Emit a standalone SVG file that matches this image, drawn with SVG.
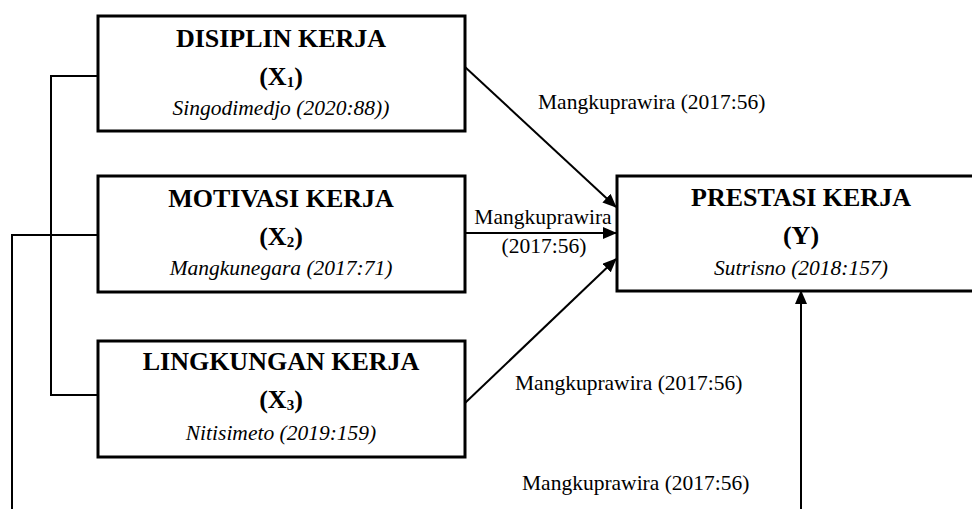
<svg xmlns="http://www.w3.org/2000/svg" width="972" height="509" viewBox="0 0 972 509">
<style>
.box{fill:#fff;stroke:#000;stroke-width:3}
.ttl{font-family:"Liberation Serif",serif;font-weight:bold;font-size:26px;text-anchor:middle;fill:#000}
.ref{font-family:"Liberation Serif",serif;font-style:italic;font-size:21.5px;text-anchor:middle;fill:#000}
.lbl{font-family:"Liberation Serif",serif;font-size:21.5px;fill:#000}
.ln{fill:none;stroke:#000;stroke-width:2}
.sub{font-size:15px}
</style>
<defs>
<marker id="ah" markerUnits="userSpaceOnUse" markerWidth="14" markerHeight="12" refX="13" refY="6" orient="auto">
<path d="M0,0 L14,6 L0,12 z" fill="#000"/>
</marker>
</defs>
<rect width="972" height="509" fill="#fff"/>
<g id="connectors">
<polyline class="ln" points="98,76 51,76 51,395 98,395"/>
<polyline class="ln" points="98,235 12,235 12,509"/>
<line class="ln" x1="465" y1="67" x2="616" y2="207" marker-end="url(#ah)"/>
<line class="ln" x1="465" y1="233" x2="616" y2="233" marker-end="url(#ah)"/>
<line class="ln" x1="465" y1="403" x2="616" y2="259" marker-end="url(#ah)"/>
<line class="ln" x1="801" y1="509" x2="801" y2="291" marker-end="url(#ah)"/>
<text class="lbl" x="538" y="109">Mangkuprawira (2017:56)</text>
<text class="lbl" x="543" y="224" text-anchor="middle">Mangkuprawira</text>
<text class="lbl" x="544" y="253" text-anchor="middle">(2017:56)</text>
<text class="lbl" x="515" y="390">Mangkuprawira (2017:56)</text>
<text class="lbl" x="522" y="490">Mangkuprawira (2017:56)</text>
</g>
<g id="x1">
<rect class="box" x="98" y="16" width="367" height="115"/>
<text class="ttl" x="281" y="47">DISIPLIN KERJA</text>
<text class="ttl" x="281" y="85">(X<tspan class="sub" dy="2">1</tspan><tspan dy="-2">)</tspan></text>
<text class="ref" x="281" y="115">Singodimedjo (2020:88))</text>
</g>
<g id="x2">
<rect class="box" x="98" y="176" width="367" height="116"/>
<text class="ttl" x="281" y="207">MOTIVASI KERJA</text>
<text class="ttl" x="281" y="245">(X<tspan class="sub" dy="2">2</tspan><tspan dy="-2">)</tspan></text>
<text class="ref" x="281" y="275">Mangkunegara (2017:71)</text>
</g>
<g id="x3">
<rect class="box" x="98" y="341" width="367" height="116"/>
<text class="ttl" x="281" y="370">LINGKUNGAN KERJA</text>
<text class="ttl" x="281" y="408">(X<tspan class="sub" dy="2">3</tspan><tspan dy="-2">)</tspan></text>
<text class="ref" x="281" y="440">Nitisimeto (2019:159)</text>
</g>
<g id="y">
<rect class="box" x="617" y="176" width="370" height="115"/>
<text class="ttl" x="801" y="206">PRESTASI KERJA</text>
<text class="ttl" x="801" y="244">(Y)</text>
<text class="ref" x="801" y="275">Sutrisno (2018:157)</text>
</g>
</svg>
